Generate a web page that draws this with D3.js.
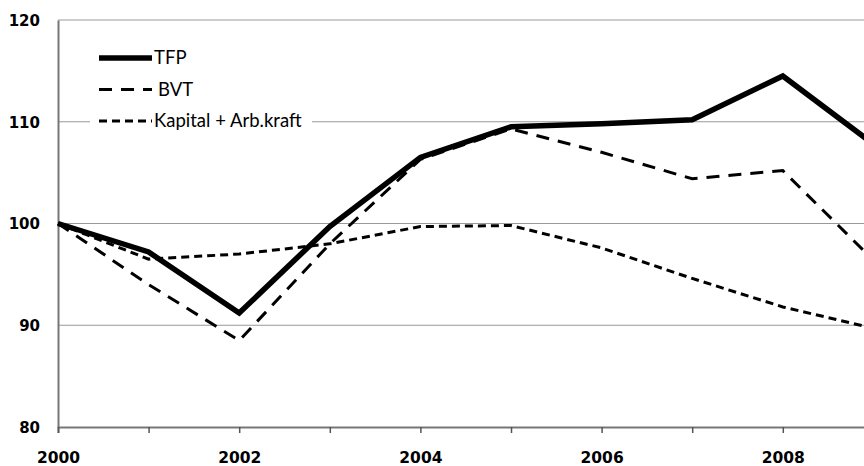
<!DOCTYPE html>
<html>
<head>
<meta charset="utf-8">
<script src="https://cdn.jsdelivr.net/npm/d3@7"></script>
<style>
  body { margin: 0; background: #fff; }
  svg { display: block; }
  .tick text { font-family: "DejaVu Sans", sans-serif; font-weight: bold; font-size: 15px; fill: #000; }
  .legend text { font-family: Lato, "Open Sans", sans-serif; font-size: 18.5px; fill: #000; }
</style>
</head>
<body>
<script>
// Data
const years = [2000, 2001, 2002, 2003, 2004, 2005, 2006, 2007, 2008, 2009];
const tfp = [100, 97.2, 91.2, 99.7, 106.5, 109.5, 109.8, 110.2, 114.5, 107.8];
const bvt = [100, 94.0, 88.5, 98.0, 106.3, 109.3, 107.0, 104.4, 105.2, 96.4];
const kapArb = [100, 96.5, 97.0, 98.0, 99.7, 99.8, 97.6, 94.6, 91.8, 89.7];
const seriesNames = ["TFP", "BVT", "Kapital + Arb.kraft"];
const yTicks = [80, 90, 100, 110, 120];
const xLabels = [2000, 2002, 2004, 2006, 2008];

const width = 864, height = 466;
const plotLeft = 58, plotTop = 20, plotBottom = 427;

const svg = d3.select("body").append("svg")
  .attr("width", width)
  .attr("height", height);

// X: one year ~ 90.6px, so 2009 sits just past the right edge
const x = d3.scaleLinear()
  .domain([2000, 2009])
  .range([plotLeft, plotLeft + 9 * 90.6]);

const y = d3.scaleLinear()
  .domain([80, 120])
  .range([plotBottom, plotTop]);

// Gridlines
svg.append("g")
  .selectAll("line")
  .data(yTicks.slice(1))
  .enter().append("line")
  .attr("x1", plotLeft)
  .attr("x2", width)
  .attr("y1", d => y(d))
  .attr("y2", d => y(d))
  .attr("stroke", "#999")
  .attr("stroke-width", 1.2);

// Y axis
const yAxis = svg.append("g")
  .attr("transform", "translate(" + plotLeft + ",0)")
  .call(d3.axisLeft(y).tickValues(yTicks).tickSize(0).tickPadding(18));
yAxis.select(".domain").attr("stroke", "#777").attr("stroke-width", 2);
yAxis.selectAll(".tick text").attr("dy", "0.36em");

// X axis
const xAxis = svg.append("g")
  .attr("transform", "translate(0," + plotBottom + ")")
  .call(d3.axisBottom(x).tickValues(years).tickSize(6).tickPadding(19)
    .tickFormat(d => xLabels.includes(d) ? d : ""));
xAxis.select(".domain").attr("stroke", "#777").attr("stroke-width", 2);
xAxis.selectAll(".tick line").attr("stroke", "#555").attr("stroke-width", 1.5);
xAxis.selectAll(".tick text").style("font-size", "15.5px");

// Lines
const line = d3.line()
  .x((d, i) => x(years[i]))
  .y(d => y(d));

const styles = [
  { data: tfp, w: 5.5, dash: null },
  { data: bvt, w: 3, dash: "13,9" },
  { data: kapArb, w: 3, dash: "8,5" }
];

svg.append("g")
  .selectAll("path")
  .data(styles)
  .enter().append("path")
  .attr("d", d => line(d.data))
  .attr("fill", "none")
  .attr("stroke", "#000")
  .attr("stroke-width", d => d.w)
  .attr("stroke-dasharray", d => d.dash)
  .attr("stroke-linejoin", "miter");

// Legend
const legend = svg.append("g").attr("class", "legend");
legend.append("rect")
  .attr("x", 90).attr("y", 40)
  .attr("width", 222).attr("height", 92)
  .attr("fill", "#fff");

const items = legend.selectAll("g")
  .data(styles)
  .enter().append("g")
  .attr("transform", (d, i) => "translate(99," + (58 + i * 31.5) + ")");

items.append("line")
  .attr("x1", 0).attr("x2", 53)
  .attr("stroke", "#000")
  .attr("stroke-width", d => d.w)
  .attr("stroke-dasharray", d => d.dash);

items.append("text")
  .attr("x", (d, i) => i === 1 ? 59 : 55)
  .attr("dy", "0.35em")
  .text((d, i) => seriesNames[i]);
</script>
</body>
</html>
